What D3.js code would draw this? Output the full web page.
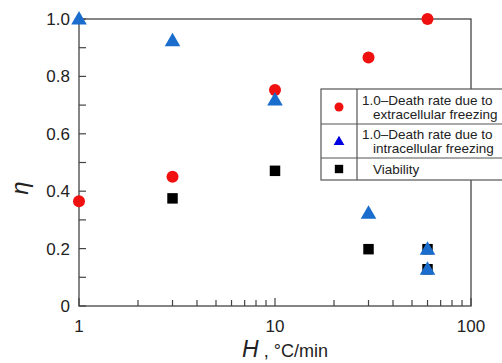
<!DOCTYPE html>
<html lang="en">
<head>
  <meta charset="UTF-8">
  <title>eta vs H</title>
  <style>
    body { margin: 0; background: #fff; }
    text { font-family: "Liberation Sans", Arial, sans-serif; }
  </style>
</head>
<body>
  <svg width="502" height="363"></svg>
  <script src="https://cdn.jsdelivr.net/npm/d3@7/dist/d3.min.js"></script>
  <script>
    // data
    var extraX = [1, 3, 10, 30, 60]
    var extraY = [0.365, 0.45, 0.753, 0.866, 1.0]
    var intraX = [1, 3, 10, 30, 60, 60]
    var intraY = [1.0, 0.924, 0.718, 0.323, 0.198, 0.128]
    var viaX = [3, 10, 30, 60, 60]
    var viaY = [0.375, 0.471, 0.198, 0.198, 0.128]
    var xTicks = [1, 10, 100]
    var yTicks = [0, 0.2, 0.4, 0.6, 0.8, 1.0]
    var legendLabels = [
      ["1.0\u2013Death rate due to", "extracellular freezing"],
      ["1.0\u2013Death rate due to", "intracellular freezing"],
      ["Viability"]
    ]

    var svg = d3.select("svg")
    var mLeft = 79, mRight = 471, mTop = 19, mBottom = 306
    var axisColor = "#444"

    var x = d3.scaleLog().domain([1, 100]).range([mLeft, mRight])
    var y = d3.scaleLinear().domain([0, 1]).range([mBottom, mTop])

    // frame
    svg.append("rect")
      .attr("x", mLeft).attr("y", mTop)
      .attr("width", mRight - mLeft).attr("height", mBottom - mTop)
      .attr("fill", "none").attr("stroke", axisColor).attr("stroke-width", 1.3)

    // y axis ticks (inside)
    var yMinor = d3.range(0, 1.01, 0.1)
    svg.append("g").selectAll("line").data(yMinor).enter().append("line")
      .attr("x1", mLeft).attr("x2", mLeft + 7)
      .attr("y1", d => y(d)).attr("y2", d => y(d))
      .attr("stroke", axisColor).attr("stroke-width", 1.2)
    svg.append("g").selectAll("text").data(yTicks).enter().append("text")
      .attr("x", mLeft - 9).attr("y", d => y(d) + 6)
      .attr("text-anchor", "end").attr("font-size", 17).attr("fill", "#222")
      .text(d => d === 0 ? "0" : d3.format(".1f")(d))

    // x axis ticks (inside)
    var xMinor = []
    ;[1, 10].forEach(function (b) { for (var k = 2; k <= 9; k++) xMinor.push(b * k) })
    svg.append("g").selectAll("line").data(xMinor).enter().append("line")
      .attr("x1", d => x(d)).attr("x2", d => x(d))
      .attr("y1", mBottom).attr("y2", mBottom - 6)
      .attr("stroke", axisColor).attr("stroke-width", 1.2)
    svg.append("g").selectAll("line").data(xTicks).enter().append("line")
      .attr("x1", d => x(d)).attr("x2", d => x(d))
      .attr("y1", mBottom).attr("y2", mBottom - 8)
      .attr("stroke", axisColor).attr("stroke-width", 1.2)
    svg.append("g").selectAll("text").data(xTicks).enter().append("text")
      .attr("x", d => x(d)).attr("y", 332)
      .attr("text-anchor", "middle").attr("font-size", 17).attr("fill", "#222")
      .text(d => d)

    // axis titles
    var xt = svg.append("text").attr("x", 285).attr("y", 357)
      .attr("text-anchor", "middle").attr("fill", "#222")
    xt.append("tspan").attr("font-style", "italic").attr("font-size", 23).text("H")
    xt.append("tspan").attr("font-size", 18).text(" , \u00b0C/min")

    svg.append("text")
      .attr("transform", "translate(28,188) rotate(-90)")
      .attr("text-anchor", "middle").attr("font-style", "italic")
      .attr("font-size", 24).attr("fill", "#222")
      .text("\u03b7")

    // markers: squares, then circles, triangles on top
    var tri = d3.symbol().type(d3.symbolTriangle).size(105)
    var sq = d3.symbol().type(d3.symbolSquare).size(110)

    svg.append("g").selectAll("path").data(viaX.map((v, i) => [v, viaY[i]])).enter()
      .append("path")
      .attr("d", sq)
      .attr("transform", d => "translate(" + x(d[0]) + "," + y(d[1]) + ")")
      .attr("fill", "#000")

    svg.append("g").selectAll("circle").data(extraX.map((v, i) => [v, extraY[i]])).enter()
      .append("circle")
      .attr("cx", d => x(d[0])).attr("cy", d => y(d[1]))
      .attr("r", 6).attr("fill", "#f01010")

    svg.append("g").selectAll("path").data(intraX.map((v, i) => [v, intraY[i]])).enter()
      .append("path")
      .attr("d", tri)
      .attr("transform", d => "translate(" + x(d[0]) + "," + (y(d[1]) + 1) + ")")
      .attr("fill", "#1a6dcc")

    // legend table
    var lg = svg.append("g")
    var lx = 321, lx2 = 357, lr = 512
    var rows = [89, 124, 158, 180]
    lg.append("rect").attr("x", lx).attr("y", rows[0])
      .attr("width", lr - lx).attr("height", rows[3] - rows[0])
      .attr("fill", "#fff").attr("stroke", "#555").attr("stroke-width", 1.2)
    lg.append("line").attr("x1", lx2).attr("x2", lx2).attr("y1", rows[0]).attr("y2", rows[3])
      .attr("stroke", "#555").attr("stroke-width", 1.2)
    rows.slice(1, 3).forEach(function (r) {
      lg.append("line").attr("x1", lx).attr("x2", lr).attr("y1", r).attr("y2", r)
        .attr("stroke", "#555").attr("stroke-width", 1.2)
    })
    var mx = (lx + lx2) / 2
    lg.append("circle").attr("cx", mx).attr("cy", 107).attr("r", 4.5).attr("fill", "#f01010")
    lg.append("path").attr("d", d3.symbol().type(d3.symbolTriangle).size(50))
      .attr("transform", "translate(" + mx + ",142)").attr("fill", "#0000e0")
    lg.append("path").attr("d", d3.symbol().type(d3.symbolSquare).size(70))
      .attr("transform", "translate(" + mx + ",169)").attr("fill", "#000")

    var textY = [[105, 119], [139, 153], [174]]
    legendLabels.forEach(function (lines, i) {
      lines.forEach(function (t, j) {
        lg.append("text")
          .attr("x", j === 0 && lines.length > 1 ? 362 : 373)
          .attr("y", textY[i][j])
          .attr("font-size", 13.5).attr("fill", "#222")
          .text(t)
      })
    })
  </script>
</body>
</html>
